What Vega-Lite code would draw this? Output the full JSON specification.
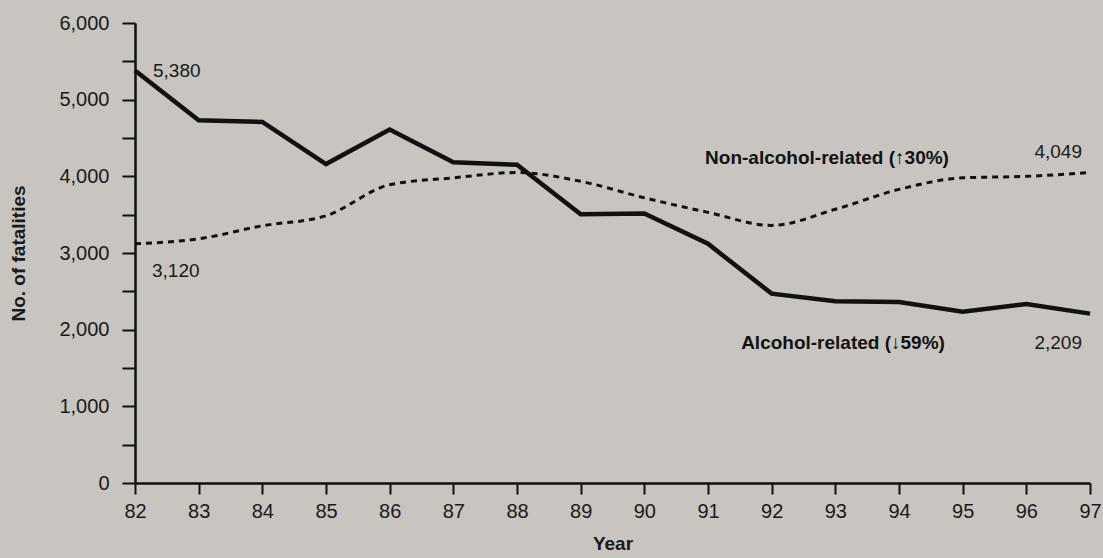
{
  "$schema": "https://vega.github.io/schema/vega-lite/v6.json",
  "autosize": "none",
  "width": 955,
  "height": 460,
  "padding": {"left": 135, "top": 23, "right": 13, "bottom": 75},
  "background": "#c8c4bf",
  "config": {
    "view": {"stroke": null},
    "font": "Liberation Sans, Arial, sans-serif",
    "axis": {
      "domainColor": "#111",
      "domainWidth": 2.5,
      "tickColor": "#111",
      "tickWidth": 2,
      "labelColor": "#1a1a1a",
      "labelFont": "Liberation Sans, Arial, sans-serif",
      "labelFontSize": 20,
      "titleFont": "Liberation Sans, Arial, sans-serif",
      "titleFontSize": 19,
      "titleFontWeight": "bold",
      "titleColor": "#1a1a1a",
      "grid": false
    }
  },
  "data": {
    "values": [
      {"year": 82, "series": "Alcohol-related", "fatalities": 5380},
      {"year": 83, "series": "Alcohol-related", "fatalities": 4730},
      {"year": 84, "series": "Alcohol-related", "fatalities": 4710},
      {"year": 85, "series": "Alcohol-related", "fatalities": 4160},
      {"year": 86, "series": "Alcohol-related", "fatalities": 4610},
      {"year": 87, "series": "Alcohol-related", "fatalities": 4185},
      {"year": 88, "series": "Alcohol-related", "fatalities": 4150},
      {"year": 89, "series": "Alcohol-related", "fatalities": 3505},
      {"year": 90, "series": "Alcohol-related", "fatalities": 3515},
      {"year": 91, "series": "Alcohol-related", "fatalities": 3120},
      {"year": 92, "series": "Alcohol-related", "fatalities": 2470},
      {"year": 93, "series": "Alcohol-related", "fatalities": 2370},
      {"year": 94, "series": "Alcohol-related", "fatalities": 2360},
      {"year": 95, "series": "Alcohol-related", "fatalities": 2235},
      {"year": 96, "series": "Alcohol-related", "fatalities": 2335},
      {"year": 97, "series": "Alcohol-related", "fatalities": 2209},
      {"year": 82, "series": "Non-alcohol-related", "fatalities": 3120},
      {"year": 83, "series": "Non-alcohol-related", "fatalities": 3185},
      {"year": 84, "series": "Non-alcohol-related", "fatalities": 3355},
      {"year": 85, "series": "Non-alcohol-related", "fatalities": 3485},
      {"year": 86, "series": "Non-alcohol-related", "fatalities": 3890},
      {"year": 87, "series": "Non-alcohol-related", "fatalities": 3980},
      {"year": 88, "series": "Non-alcohol-related", "fatalities": 4050},
      {"year": 89, "series": "Non-alcohol-related", "fatalities": 3935},
      {"year": 90, "series": "Non-alcohol-related", "fatalities": 3720},
      {"year": 91, "series": "Non-alcohol-related", "fatalities": 3530},
      {"year": 92, "series": "Non-alcohol-related", "fatalities": 3360},
      {"year": 93, "series": "Non-alcohol-related", "fatalities": 3570},
      {"year": 94, "series": "Non-alcohol-related", "fatalities": 3830},
      {"year": 95, "series": "Non-alcohol-related", "fatalities": 3980},
      {"year": 96, "series": "Non-alcohol-related", "fatalities": 4000},
      {"year": 97, "series": "Non-alcohol-related", "fatalities": 4049}
    ]
  },
  "encoding": {
    "x": {
      "field": "year", "type": "quantitative",
      "scale": {"domain": [82, 97], "nice": false, "zero": false},
      "axis": {
        "title": "Year",
        "values": [82, 83, 84, 85, 86, 87, 88, 89, 90, 91, 92, 93, 94, 95, 96, 97],
        "format": "d",
        "tickSize": 11,
        "labelPadding": 7,
        "titlePadding": 13,
        "labelFlush": false
      }
    },
    "y": {
      "field": "fatalities", "type": "quantitative",
      "scale": {"domain": [0, 6000], "nice": false},
      "axis": {
        "title": "No. of fatalities",
        "values": [0, 500, 1000, 1500, 2000, 2500, 3000, 3500, 4000, 4500, 5000, 5500, 6000],
        "labelExpr": "datum.value % 1000 == 0 ? format(datum.value, ',') : ''",
        "tickSize": 13,
        "labelPadding": 13,
        "titlePadding": 30,
        "labelFlush": false
      }
    }
  },
  "layer": [
    {
      "transform": [{"filter": "datum.series == 'Non-alcohol-related'"}],
      "mark": {"type": "line", "color": "#111", "strokeWidth": 3, "strokeDash": [6, 5], "interpolate": "monotone"}
    },
    {
      "transform": [{"filter": "datum.series == 'Alcohol-related'"}],
      "mark": {"type": "line", "color": "#111", "strokeWidth": 4.5, "strokeJoin": "miter"}
    },
    {
      "transform": [{"filter": "datum.series == 'Alcohol-related' && datum.year == 82"}],
      "mark": {"type": "text", "align": "left", "baseline": "middle", "dx": 18, "dy": 0, "fontSize": 19, "color": "#1a1a1a"},
      "encoding": {"text": {"field": "fatalities", "type": "quantitative", "format": ","}}
    },
    {
      "transform": [{"filter": "datum.series == 'Non-alcohol-related' && datum.year == 82"}],
      "mark": {"type": "text", "align": "left", "baseline": "middle", "dx": 17, "dy": 27, "fontSize": 19, "color": "#1a1a1a"},
      "encoding": {"text": {"field": "fatalities", "type": "quantitative", "format": ","}}
    },
    {
      "transform": [{"filter": "datum.series == 'Non-alcohol-related' && datum.year == 97"}],
      "mark": {"type": "text", "align": "right", "baseline": "middle", "dx": -8, "dy": -21, "fontSize": 19, "color": "#1a1a1a"},
      "encoding": {"text": {"field": "fatalities", "type": "quantitative", "format": ","}}
    },
    {
      "transform": [{"filter": "datum.series == 'Alcohol-related' && datum.year == 97"}],
      "mark": {"type": "text", "align": "right", "baseline": "middle", "dx": -8, "dy": 29, "fontSize": 19, "color": "#1a1a1a"},
      "encoding": {"text": {"field": "fatalities", "type": "quantitative", "format": ","}}
    },
    {
      "transform": [{"filter": "datum.series == 'Non-alcohol-related' && datum.year == 94"}],
      "mark": {"type": "text", "align": "center", "baseline": "middle", "dx": -72, "dy": -31, "fontSize": 19, "fontWeight": "bold", "color": "#111", "text": "Non-alcohol-related (↑30%)"}
    },
    {
      "transform": [{"filter": "datum.series == 'Alcohol-related' && datum.year == 94"}],
      "mark": {"type": "text", "align": "center", "baseline": "middle", "dx": -56, "dy": 41, "fontSize": 19, "fontWeight": "bold", "color": "#111", "text": "Alcohol-related (↓59%)"}
    }
  ]
}
